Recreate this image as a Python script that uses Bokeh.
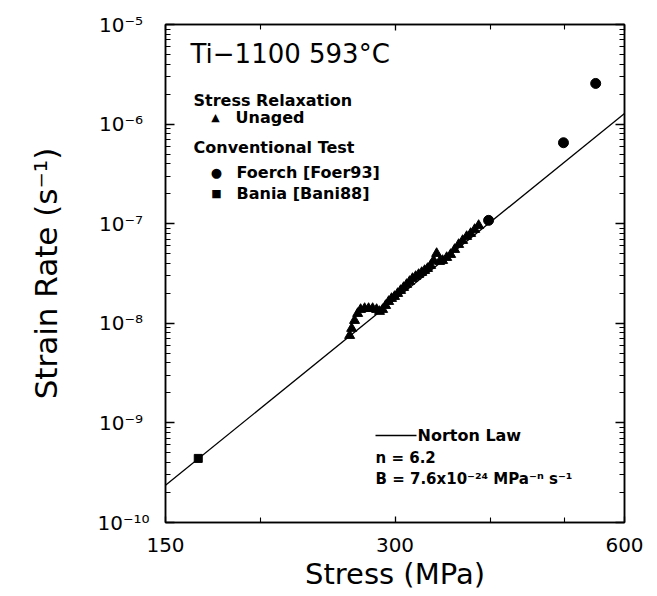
from bokeh.plotting import figure
from bokeh.models import (Range1d, FixedTicker, LogAxis, Label, BoxAnnotation,
                          CustomJSTickFormatter)
from bokeh.embed import file_html
from bokeh.resources import INLINE

# ---- data ----
# Stress relaxation, unaged (stress MPa, strain rate 1/s)
relax_stress = [261.6, 263.2, 265.5, 268.0, 270.4, 273.7, 277.0, 280.4, 283.8, 286.3,
                289.0, 291.6, 294.3, 296.9, 299.6, 302.4, 305.1, 307.9, 310.7, 313.5,
                316.3, 319.3, 322.2, 325.2, 328.1, 331.0, 334.1, 337.1, 340.2, 343.3,
                346.4, 350.7, 354.9, 359.2, 363.6, 368.0, 372.5, 377.0, 381.6, 386.2]
relax_rate = [7.54e-9, 8.87e-9, 1.067e-8, 1.254e-8, 1.376e-8, 1.408e-8, 1.408e-8, 1.408e-8, 1.376e-8, 1.314e-8,
              1.376e-8, 1.509e-8, 1.655e-8, 1.774e-8, 1.858e-8, 1.991e-8, 2.134e-8, 2.287e-8, 2.452e-8, 2.628e-8,
              2.817e-8, 2.950e-8, 3.090e-8, 3.236e-8, 3.389e-8, 3.549e-8, 3.804e-8, 4.270e-8, 5.020e-8, 4.173e-8,
              4.270e-8, 4.576e-8, 4.906e-8, 5.508e-8, 6.183e-8, 6.781e-8, 7.437e-8, 7.972e-8, 8.744e-8, 9.592e-8]

# Conventional tests
foerch_stress = [398, 499, 550]
foerch_rate = [1.08e-7, 6.5e-7, 2.56e-6]
bania_stress = [165.6]
bania_rate = [4.4e-10]

# Norton law line (n = 6.2, B = 7.6e-24)
norton_stress = [150, 600]
norton_rate = [2.36e-10, 1.28e-6]

x_major = [150, 300, 600]
x_minor = [200, 400, 500]
y_major = [1e-10, 1e-9, 1e-8, 1e-7, 1e-6, 1e-5]
y_minor = [k * 10.0 ** e for e in range(-10, -5) for k in range(2, 10)]

FONT = "DejaVu Sans"

p = figure(width=657, height=596, x_axis_type="log", y_axis_type="log",
           x_range=Range1d(150, 600), y_range=Range1d(1e-10, 1e-5),
           output_backend="svg", toolbar_location=None,
           min_border_left=165, min_border_right=33, min_border_top=24,
           min_border_bottom=74)
p.xgrid.visible = False
p.ygrid.visible = False
p.outline_line_color = "black"
p.outline_line_width = 1.5
p.background_fill_color = "white"
p.border_fill_color = "white"

sup_code = """
const e = Math.round(Math.log10(tick));
const m = {"-":"\u207b","0":"\u2070","1":"\u00b9","2":"\u00b2","3":"\u00b3","4":"\u2074",
           "5":"\u2075","6":"\u2076","7":"\u2077","8":"\u2078","9":"\u2079"};
let s = "10";
for (const c of String(e)) { s += m[c]; }
if (e > -10) { s += "\u2008"; }
return s;
"""

xt = FixedTicker(ticks=x_major, minor_ticks=x_minor)
yt = FixedTicker(ticks=y_major, minor_ticks=y_minor)

def style(ax, major, minor):
    ax.axis_line_width = 1.5
    ax.axis_line_color = "black"
    ax.major_tick_in = major
    ax.major_tick_out = 0
    ax.minor_tick_in = minor
    ax.minor_tick_out = 0
    ax.major_tick_line_width = 1.3
    ax.minor_tick_line_width = 1.1
    ax.major_tick_line_color = "black"
    ax.minor_tick_line_color = "black"

xa = p.xaxis[0]
xa.ticker = xt
style(xa, 6, 5)
xa.major_label_text_font = FONT
xa.major_label_text_font_size = "20px"
xa.major_label_text_color = "black"
xa.major_label_standoff = 15
xa.axis_label = "Stress (MPa)"
xa.axis_label_text_font = FONT
xa.axis_label_text_font_size = "29px"
xa.axis_label_text_font_style = "normal"
xa.axis_label_text_color = "black"
xa.axis_label_standoff = 2

ya = p.yaxis[0]
ya.ticker = yt
style(ya, 9, 5)
ya.formatter = CustomJSTickFormatter(code=sup_code)
ya.major_label_text_font = FONT
ya.major_label_text_font_size = "20px"
ya.major_label_text_color = "black"
ya.major_label_standoff = 16
ya.axis_label = "Strain Rate (s\u207b\u00b9)"
ya.axis_label_text_font = FONT
ya.axis_label_text_font_size = "31px"
ya.axis_label_text_font_style = "normal"
ya.axis_label_text_color = "black"
ya.axis_label_standoff = 30

blank = "return '';"
top = LogAxis(ticker=FixedTicker(ticks=x_major, minor_ticks=x_minor),
              formatter=CustomJSTickFormatter(code=blank),
              major_label_standoff=0, major_label_text_font_size="0px")
style(top, 6, 5)
p.add_layout(top, "above")
right = LogAxis(ticker=FixedTicker(ticks=y_major, minor_ticks=y_minor),
                formatter=CustomJSTickFormatter(code=blank),
                major_label_standoff=0, major_label_text_font_size="0px")
style(right, 9, 5)
p.add_layout(right, "right")

# ---- marks ----
p.line(norton_stress, norton_rate, line_color="black", line_width=1.3)
p.scatter(relax_stress, relax_rate, marker="triangle", size=10,
          fill_color="black", line_color="black")
p.scatter(foerch_stress, foerch_rate, marker="circle", size=10,
          fill_color="black", line_color="black")
p.scatter(bania_stress, bania_rate, marker="square", size=8,
          fill_color="black", line_color="black")

# ---- annotations (screen units relative to the frame, y upward) ----
def lab(x, y, text, size, bold=False, align="left"):
    p.add_layout(Label(x=x, y=y, x_units="screen", y_units="screen", text=text,
                       text_font=FONT, text_font_size=size,
                       text_font_style="bold" if bold else "normal",
                       text_color="black", text_align=align,
                       text_baseline="middle"))

lab(25, 469, "Ti\u22121100 593\u00b0C", "26px")
lab(28, 422, "Stress Relaxation", "16px", bold=True)
lab(50, 405, "\u25b2", "11px", align="center")
lab(70, 405, "Unaged", "16px", bold=True)
lab(28, 375, "Conventional Test", "16px", bold=True)
lab(51, 350, "\u25cf", "13px", align="center")
lab(71, 350, "Foerch [Foer93]", "16px", bold=True)
lab(51, 329, "\u25a0", "11px", align="center")
lab(71, 329, "Bania [Bani88]", "16px", bold=True)

p.add_layout(BoxAnnotation(left=210, right=251, bottom=86.3, top=87.7,
                           left_units="screen", right_units="screen",
                           bottom_units="screen", top_units="screen",
                           fill_color="black", fill_alpha=1.0, line_color=None))
lab(252, 87, "Norton Law", "16px", bold=True)
lab(210, 65, "n = 6.2", "15px", bold=True)
lab(210, 44, "B = 7.6x10\u207b\u00b2\u2074 MPa\u207b\u207f s\u207b\u00b9", "15px", bold=True)

open("out.html", "w").write(file_html(p, INLINE))
